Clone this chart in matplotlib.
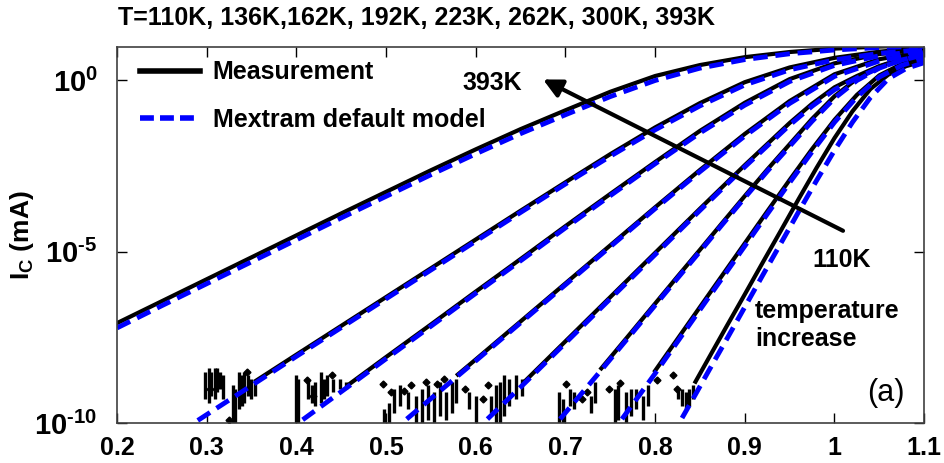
import matplotlib
matplotlib.use('Agg')
import matplotlib.pyplot as plt
from matplotlib.lines import Line2D
from matplotlib.ticker import NullLocator

plt.rcParams['font.family'] = ['Liberation Sans', 'DejaVu Sans']
plt.rcParams['font.weight'] = 'bold'
plt.rcParams['mathtext.fontset'] = 'custom'
plt.rcParams['mathtext.rm'] = 'Liberation Sans:bold'
plt.rcParams['mathtext.bf'] = 'Liberation Sans:bold'
plt.rcParams['mathtext.it'] = 'Liberation Sans:bold'

########## Gummel data, log10(IC / mA) vs VBE (V)
temps = ['393K', '300K', '262K', '223K', '192K', '162K', '136K', '110K']

# measurement
meas_v = [
    [0.20, 0.25, 0.30, 0.35, 0.40, 0.45, 0.50, 0.55, 0.60, 0.65, 0.70, 0.75, 0.80, 0.85, 0.90, 0.95, 1.00, 1.05, 1.10],
    [0.355, 0.40, 0.45, 0.50, 0.55, 0.60, 0.65, 0.70, 0.75, 0.80, 0.85, 0.90, 0.95, 1.00, 1.05, 1.10],
    [0.46, 0.50, 0.55, 0.60, 0.65, 0.70, 0.75, 0.80, 0.85, 0.90, 0.95, 1.00, 1.05, 1.10],
    [0.58, 0.60, 0.65, 0.70, 0.75, 0.80, 0.85, 0.90, 0.95, 1.00, 1.05, 1.10],
    [0.655, 0.70, 0.75, 0.80, 0.85, 0.90, 0.95, 0.975, 1.00, 1.025, 1.05, 1.075, 1.10],
    [0.74, 0.775, 0.80, 0.825, 0.85, 0.875, 0.90, 0.925, 0.95, 0.975, 1.00, 1.025, 1.05, 1.075, 1.10],
    [0.80, 0.825, 0.85, 0.875, 0.90, 0.925, 0.95, 0.975, 1.00, 1.025, 1.05, 1.075, 1.10],
    [0.845, 0.86, 0.88, 0.90, 0.92, 0.94, 0.96, 0.98, 1.00, 1.02, 1.04, 1.06, 1.08, 1.10],
]
meas_log = [
    [-7.08, -6.44, -5.80, -5.16, -4.52, -3.88, -3.25, -2.62, -2.01, -1.42, -0.87, -0.33, 0.13, 0.45, 0.68, 0.83, 0.93, 0.99, 1.02],
    [-8.76, -8.00, -7.16, -6.32, -5.48, -4.64, -3.80, -2.97, -2.15, -1.37, -0.66, -0.05, 0.38, 0.66, 0.84, 0.95],
    [-8.84, -8.07, -7.12, -6.16, -5.21, -4.25, -3.31, -2.38, -1.47, -0.65, 0.04, 0.50, 0.77, 0.92],
    [-8.58, -8.14, -7.03, -5.92, -4.81, -3.70, -2.61, -1.56, -0.60, 0.18, 0.62, 0.85],
    [-8.77, -7.61, -6.32, -5.03, -3.74, -2.47, -1.24, -0.68, -0.20, 0.13, 0.42, 0.63, 0.78],
    [-8.40, -7.30, -6.51, -5.72, -4.94, -4.15, -3.37, -2.60, -1.86, -1.12, -0.46, 0.05, 0.40, 0.63, 0.76],
    [-8.47, -7.54, -6.61, -5.68, -4.75, -3.82, -2.90, -2.00, -1.15, -0.42, 0.15, 0.48, 0.68],
    [-8.79, -8.09, -7.16, -6.24, -5.31, -4.39, -3.46, -2.55, -1.68, -0.90, -0.25, 0.17, 0.42, 0.56],
]

# Mextram default parameters
model_v = [
    [0.20, 0.25, 0.30, 0.35, 0.40, 0.45, 0.50, 0.55, 0.60, 0.65, 0.70, 0.75, 0.80, 0.85, 0.90, 0.95, 1.00, 1.05, 1.10],
    [0.29, 0.35, 0.40, 0.45, 0.50, 0.55, 0.60, 0.65, 0.70, 0.75, 0.80, 0.85, 0.90, 0.95, 1.00, 1.05, 1.10],
    [0.407, 0.46, 0.50, 0.55, 0.60, 0.65, 0.70, 0.75, 0.80, 0.85, 0.90, 0.95, 1.00, 1.05, 1.10],
    [0.523, 0.58, 0.60, 0.65, 0.70, 0.75, 0.80, 0.85, 0.90, 0.95, 1.00, 1.05, 1.10],
    [0.613, 0.655, 0.70, 0.75, 0.80, 0.85, 0.90, 0.95, 0.975, 1.00, 1.025, 1.05, 1.075, 1.10],
    [0.694, 0.74, 0.775, 0.80, 0.825, 0.85, 0.875, 0.90, 0.925, 0.95, 0.975, 1.00, 1.025, 1.05, 1.075, 1.10],
    [0.763, 0.80, 0.825, 0.85, 0.875, 0.90, 0.925, 0.95, 0.975, 1.00, 1.025, 1.05, 1.075, 1.10],
    [0.83, 0.845, 0.86, 0.88, 0.90, 0.92, 0.94, 0.96, 0.98, 1.00, 1.02, 1.04, 1.06, 1.08, 1.10],
]
model_log = [
    [-7.22, -6.57, -5.93, -5.29, -4.65, -4.01, -3.38, -2.75, -2.14, -1.55, -1.00, -0.47, 0.00, 0.36, 0.61, 0.78, 0.89, 0.96, 1.00],
    [-9.92, -8.90, -8.05, -7.21, -6.37, -5.53, -4.69, -3.85, -3.02, -2.21, -1.44, -0.74, -0.13, 0.31, 0.60, 0.79, 0.91],
    [-9.90, -8.89, -8.12, -7.17, -6.21, -5.26, -4.30, -3.36, -2.43, -1.53, -0.72, -0.03, 0.44, 0.72, 0.88],
    [-9.88, -8.62, -8.18, -7.07, -5.96, -4.85, -3.74, -2.66, -1.62, -0.67, 0.12, 0.57, 0.82],
    [-9.88, -8.82, -7.66, -6.37, -5.08, -3.79, -2.52, -1.30, -0.75, -0.27, 0.07, 0.37, 0.59, 0.75],
    [-9.88, -8.45, -7.35, -6.56, -5.77, -4.99, -4.20, -3.42, -2.65, -1.92, -1.19, -0.52, 0.00, 0.36, 0.60, 0.74],
    [-9.88, -8.55, -7.62, -6.69, -5.76, -4.83, -3.90, -2.98, -2.08, -1.22, -0.48, 0.10, 0.44, 0.65],
    [-9.85, -9.16, -8.46, -7.54, -6.61, -5.68, -4.76, -3.83, -2.92, -2.04, -1.22, -0.50, 0.05, 0.35, 0.52],
]

# noise floor of the measurement: (VBE, log lo, log hi) spikes and single points
noise_spikes = [
    (0.298, -9.3, -8.5), (0.302, -9.4, -8.4), (0.305, -9.2, -8.5), (0.309, -9.3, -8.4), (0.311, -9.1, -8.4),
    (0.315, -9.0, -8.5), (0.318, -9.3, -8.6), (0.329, -10.0, -8.9), (0.331, -10.0, -9.0), (0.336, -9.6, -8.5),
    (0.339, -9.5, -8.6), (0.342, -9.4, -8.5), (0.346, -9.2, -8.6), (0.349, -9.3, -8.7), (0.354, -9.2, -8.8),
    (0.399, -10.0, -8.6), (0.402, -10.0, -8.7), (0.413, -9.3, -8.7), (0.417, -9.4, -8.9), (0.421, -9.5, -8.8),
    (0.427, -9.4, -8.5), (0.431, -9.3, -8.7), (0.434, -9.2, -8.6), (0.441, -9.1, -8.7), (0.449, -9.0, -8.7),
    (0.455, -9.0, -8.8),
    (0.498, -10.0, -9.6), (0.503, -10.0, -9.4), (0.509, -9.7, -9.0), (0.515, -9.5, -8.9), (0.524, -9.6, -9.1),
    (0.533, -10.0, -9.2), (0.540, -10.0, -9.0), (0.547, -9.9, -8.9), (0.553, -10.0, -9.1), (0.560, -9.8, -8.8),
    (0.567, -9.9, -9.1), (0.573, -9.7, -8.8), (0.578, -9.4, -8.7),
    (0.592, -9.6, -9.1), (0.600, -10.0, -9.2), (0.617, -9.7, -9.2), (0.622, -10.0, -8.9), (0.627, -10.0, -8.8),
    (0.632, -9.8, -8.6), (0.637, -9.5, -8.7), (0.645, -9.3, -8.6), (0.651, -9.2, -8.7),
    (0.693, -10.0, -9.1), (0.697, -10.0, -9.3), (0.705, -9.5, -9.0), (0.710, -9.6, -9.1), (0.728, -9.7, -9.2),
    (0.733, -9.4, -8.8),
    (0.755, -10.0, -9.0), (0.759, -9.9, -8.9), (0.767, -10.0, -9.1), (0.773, -9.8, -9.0), (0.779, -9.6, -9.0),
    (0.786, -9.9, -9.2), (0.792, -9.5, -8.9),
    (0.826, -9.3, -9.0), (0.830, -9.5, -9.0), (0.834, -9.6, -9.1), (0.838, -9.5, -9.0), (0.842, -9.3, -8.9),
]
noise_pts_v = [0.325, 0.304, 0.345, 0.412, 0.418, 0.440, 0.497, 0.505, 0.520, 0.528, 0.545, 0.557, 0.565,
               0.588, 0.608, 0.614, 0.701, 0.719, 0.724, 0.748, 0.761, 0.802, 0.820, 0.824]
noise_pts_log = [-9.9, -9.0, -8.5, -8.75, -9.2, -8.6, -8.85, -9.1, -9.05, -8.9, -8.8, -8.85, -8.7,
                 -9.0, -9.3, -8.9, -8.85, -9.3, -9.1, -9.0, -8.83, -8.74, -8.6, -9.0]

xticks = [0.2, 0.3, 0.4, 0.5, 0.6, 0.7, 0.8, 0.9, 1.0, 1.1]
xticklabels = ['0.2', '0.3', '0.4', '0.5', '0.6', '0.7', '0.8', '0.9', '1', '1.1']
yticks = [1e-10, 1e-5, 1e0]
yticklabels = [r'$10^{\text{-}10}$', r'$10^{\text{-}5}$', r'$10^{0}$']

blue = '#0000ff'

fig = plt.figure(figsize=(9.44, 4.63), dpi=100)
ax = fig.add_axes([0.124, 0.086, 0.855, 0.812])

for lo in noise_spikes:
    ax.plot([lo[0], lo[0]], [10 ** lo[1], 10 ** lo[2]], color='k', lw=2.4, solid_capstyle='butt')
ax.plot(noise_pts_v, [10 ** y for y in noise_pts_log], 'kD', ms=3.5)

for v, y in zip(meas_v, meas_log):
    ax.plot(v, [10 ** k for k in y], color='k', lw=3)
for v, y in zip(model_v, model_log):
    ax.plot(v, [10 ** k for k in y], color=blue, lw=3.5, ls=(0, (3, 1.6)))

ax.set_yscale('log')
ax.set_xlim(0.2, 1.1)
ax.set_ylim(1e-10, 10 ** 0.97)
ax.set_xticks(xticks)
ax.set_xticklabels(xticklabels)
ax.set_yticks(yticks)
ax.set_yticklabels(yticklabels)
ax.yaxis.set_minor_locator(NullLocator())
ax.tick_params(direction='in', length=7, width=1, top=True, right=True, colors='k')
ax.tick_params(axis='x', pad=9, labelsize=18)
ax.tick_params(axis='y', pad=14, labelsize=21)
for s in ax.spines.values():
    s.set_color('#404040')
    s.set_linewidth(1.2)

ax.set_ylabel(r'$\mathbf{I_C}$ (mA)', fontsize=19, fontweight='bold')
ax.yaxis.set_label_coords(-0.10, 0.5)

# legend
handles = [Line2D([], [], color='k', lw=4),
           Line2D([], [], color=blue, lw=4, ls=(0, (2.5, 1.1)))]
ax.legend(handles, ['Measurement', 'Mextram default model'], loc='upper left',
          bbox_to_anchor=(0.0285, 0.965), frameon=False, fontsize=18,
          handlelength=2.4, handletextpad=0.5, labelspacing=0.95, borderpad=0, borderaxespad=0)

# temperature arrow
ax.annotate('', xy=(0.675, 10 ** 0.03), xytext=(1.0095, 10 ** -4.386),
            arrowprops=dict(arrowstyle='-|>', color='k', lw=3, mutation_scale=28, shrinkA=0, shrinkB=0))
ax.text(0.618, 10 ** -0.07, '393K', ha='center', va='center', fontsize=18, fontweight='bold')
ax.text(1.0085, 10 ** -5.23, '110K', ha='center', va='center', fontsize=18, fontweight='bold')
ax.text(0.9115, 10 ** -6.73, 'temperature', ha='left', va='center', fontsize=18, fontweight='bold')
ax.text(0.9115, 10 ** -7.55, 'increase', ha='left', va='center', fontsize=18, fontweight='bold')
ax.text(1.0575, 10 ** -9.12, '(a)', ha='center', va='center', fontsize=22, fontweight='normal')

fig.text(118 / 944, 1 - 18 / 463, 'T=110K, 136K,162K, 192K, 223K, 262K, 300K, 393K',
         ha='left', va='center', fontsize=18, fontweight='bold')

fig.savefig('out.png', dpi=100)
